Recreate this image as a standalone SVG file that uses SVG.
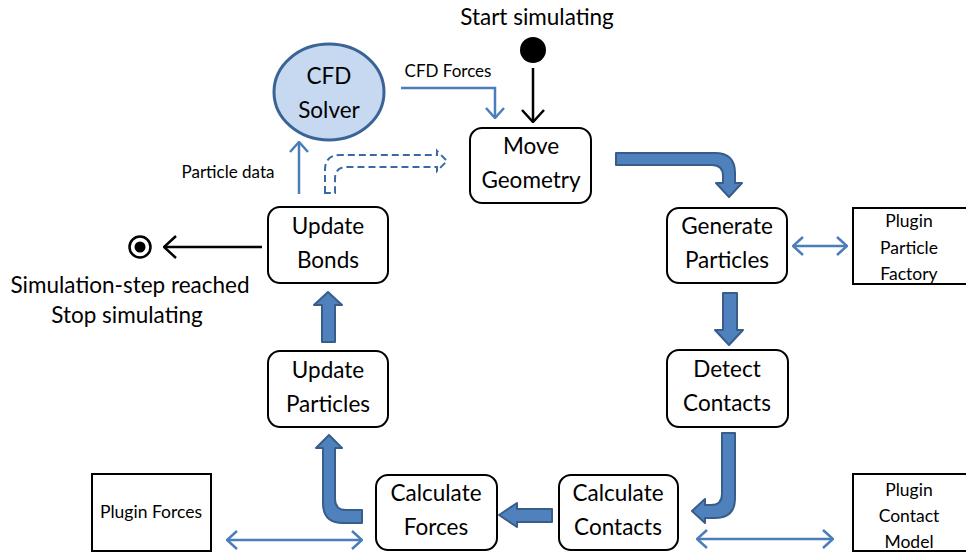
<svg xmlns="http://www.w3.org/2000/svg" width="966" height="553" viewBox="0 0 966 553">
  <defs>
    <style>
      text { font-family: Lato, "Open Sans", "Liberation Sans", sans-serif; fill: #000; text-anchor: middle; }
      .lbl { font-size: 22.5px; }
      .plug { font-size: 17.5px; }
      .small { font-size: 17px; }
      .step { fill: #fff; stroke: #000; stroke-width: 2; }
      .plugin { fill: #fff; stroke: #000; stroke-width: 2; }
      .block { fill: #4f81bd; stroke: #385d8a; stroke-width: 2; stroke-linejoin: round; }
      .thin { fill: none; stroke: #4a7ebb; stroke-width: 2.5; }
      .black { fill: none; stroke: #000; stroke-width: 2.5; }
      .dash { fill: none; stroke: #3a6aa6; stroke-width: 2; stroke-dasharray: 7 4; }
    </style>
    <marker id="headBlue" viewBox="0 0 12 20" refX="11" refY="10" markerWidth="12" markerHeight="20" markerUnits="userSpaceOnUse" orient="auto-start-reverse">
      <path d="M1,1 L11,10 L1,19" fill="none" stroke="#4a7ebb" stroke-width="2.5"/>
    </marker>
    <marker id="headBlack" viewBox="0 0 14 24" refX="13" refY="12" markerWidth="14" markerHeight="24" markerUnits="userSpaceOnUse" orient="auto-start-reverse">
      <path d="M1,1 L13,12 L1,23" fill="none" stroke="#000" stroke-width="2.5"/>
    </marker>
  </defs>

  <rect width="966" height="553" fill="#fff"/>

  <!-- start and end states -->
  <g id="start">
    <text class="lbl" x="537" y="25">Start simulating</text>
    <circle cx="533" cy="50" r="13" fill="#000"/>
  </g>
  <g id="end">
    <circle cx="140" cy="247" r="10.5" fill="none" stroke="#000" stroke-width="2.5"/>
    <circle cx="140" cy="247" r="5.5" fill="#000"/>
    <text class="lbl" x="130" y="293">Simulation-step reached</text>
    <text class="lbl" x="127" y="323">Stop simulating</text>
  </g>

  <!-- process steps -->
  <g id="cfd-solver">
    <ellipse cx="329" cy="92" rx="55" ry="48" fill="#c6d9f0" stroke="#3b6496" stroke-width="3"/>
    <text class="lbl" x="329" y="84">CFD</text>
    <text class="lbl" x="329" y="118">Solver</text>
  </g>
  <g id="move-geometry">
    <rect class="step" x="470" y="128" width="121" height="75" rx="12"/>
    <text class="lbl" x="531" y="154">Move</text>
    <text class="lbl" x="531" y="188">Geometry</text>
  </g>
  <g id="generate-particles">
    <rect class="step" x="667" y="208" width="120" height="75" rx="12"/>
    <text class="lbl" x="727" y="234">Generate</text>
    <text class="lbl" x="727" y="268">Particles</text>
  </g>
  <g id="detect-contacts">
    <rect class="step" x="667" y="350" width="121" height="77" rx="12"/>
    <text class="lbl" x="727" y="377">Detect</text>
    <text class="lbl" x="727" y="411">Contacts</text>
  </g>
  <g id="calculate-contacts">
    <rect class="step" x="559" y="475" width="119" height="75" rx="12"/>
    <text class="lbl" x="618" y="501">Calculate</text>
    <text class="lbl" x="618" y="535">Contacts</text>
  </g>
  <g id="calculate-forces">
    <rect class="step" x="376" y="475" width="121" height="75" rx="12"/>
    <text class="lbl" x="436" y="501">Calculate</text>
    <text class="lbl" x="436" y="535">Forces</text>
  </g>
  <g id="update-particles">
    <rect class="step" x="268" y="351" width="120" height="76" rx="12"/>
    <text class="lbl" x="328" y="378">Update</text>
    <text class="lbl" x="328" y="412">Particles</text>
  </g>
  <g id="update-bonds">
    <rect class="step" x="268" y="207" width="120" height="76" rx="12"/>
    <text class="lbl" x="328" y="234">Update</text>
    <text class="lbl" x="328" y="268">Bonds</text>
  </g>

  <!-- plugins -->
  <g id="plugin-particle-factory">
    <rect class="plugin" x="853" y="208" width="120" height="76"/>
    <text class="plug" x="909" y="227">Plugin</text>
    <text class="plug" x="909" y="254">Particle</text>
    <text class="plug" x="909" y="280">Factory</text>
  </g>
  <g id="plugin-contact-model">
    <rect class="plugin" x="853" y="474" width="120" height="77"/>
    <text class="plug" x="909" y="496">Plugin</text>
    <text class="plug" x="909" y="522">Contact</text>
    <text class="plug" x="909" y="548">Model</text>
  </g>
  <g id="plugin-forces">
    <rect class="plugin" x="92" y="474" width="119" height="77"/>
    <text class="plug" x="151" y="518">Plugin Forces</text>
  </g>

  <!-- connectors -->
  <g id="connectors">
    <!-- control flow -->
    <line class="black" x1="262" y1="247" x2="164" y2="247" marker-end="url(#headBlack)"/>
    <line class="black" x1="533" y1="68" x2="533" y2="122" marker-end="url(#headBlack)"/>

    <!-- data exchange with the CFD solver -->
    <path class="thin" d="M401,88 H495 V118" marker-end="url(#headBlue)"/>
    <text class="small" x="448" y="77">CFD Forces</text>
    <line class="thin" x1="299" y1="194" x2="299" y2="142" marker-end="url(#headBlue)"/>
    <text class="small" x="228" y="178">Particle data</text>
    <path class="dash" d="M325,193 V170 Q325,155 340,155 H437 V151 L447,161 L437,171 V167 H347 Q335,167 335,179 V193 Z"/>

    <!-- plugin links -->
    <line class="thin" x1="793" y1="246" x2="847" y2="246" marker-start="url(#headBlue)" marker-end="url(#headBlue)"/>
    <line class="thin" x1="697" y1="539" x2="833" y2="539" marker-start="url(#headBlue)" marker-end="url(#headBlue)"/>
    <line class="thin" x1="227" y1="540" x2="362" y2="540" marker-start="url(#headBlue)" marker-end="url(#headBlue)"/>

    <!-- main loop block arrows -->
    <path class="block" d="M616,153 H715 Q735,153 735,173 V183 H742 L729,197 L716,183 H723 V176 Q723,165 712,165 H616 Z"/>
    <path class="block" d="M723,293 H737 V330 H743 L729,345 L715,330 H723 Z"/>
    <path class="block" d="M722,433 H735 V498 Q735,518 715,518 H705 V523 L692,511 L705,499 V505 H711 Q722,505 722,494 Z"/>
    <path class="block" d="M552,509 V522 H517 V527 L499,515 L517,503 V509 Z"/>
    <path class="block" d="M362,510 V523 H343 Q323,523 323,503 V448 H316 L329,435 L342,448 H335 V499 Q335,510 346,510 Z"/>
    <path class="block" d="M322,342 V305 H314 L328,292 L342,305 H335 V342 Z"/>
  </g>
</svg>
